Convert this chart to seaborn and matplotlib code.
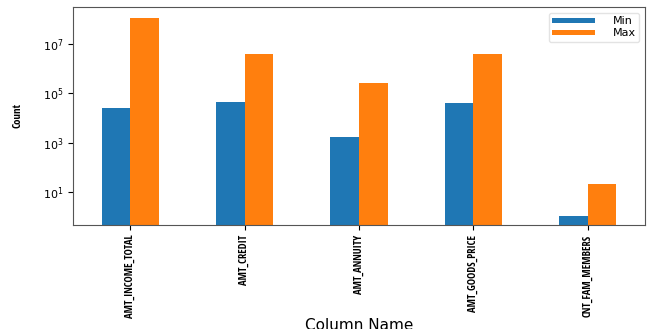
import matplotlib
matplotlib.use("Agg")
import matplotlib.pyplot as plt
from matplotlib import font_manager
import seaborn as sns
import pandas as pd

columns = ["AMT_INCOME_TOTAL", "AMT_CREDIT", "AMT_ANNUITY", "AMT_GOODS_PRICE", "CNT_FAM_MEMBERS"]
min_values = [25650.0, 45000.0, 1615.5, 40500.0, 1.0]
max_values = [117000000.0, 4050000.0, 258025.5, 4050000.0, 20.0]
stat_labels = ["Min", "Max"]

df = pd.DataFrame({
    "Column Name": columns * 2,
    "Count": min_values + max_values,
    "Stat": [stat_labels[0]] * len(columns) + [stat_labels[1]] * len(columns),
})

# pick a narrow face for the rotated labels if one is installed
names = {f.name for f in font_manager.fontManager.ttflist}
narrow = [n for n in ["Liberation Sans Narrow", "DejaVu Sans Condensed", "Open Sans Condensed",
                      "Roboto Condensed"] if n in names] + ["DejaVu Sans"]

fig = plt.figure(figsize=(6.51, 3.29), dpi=100)
ax = fig.add_axes([73 / 651, 1 - 225 / 329, 572 / 651, 218 / 329])

sns.barplot(data=df, x="Column Name", y="Count", hue="Stat",
            palette=["#1f77b4", "#ff7f0e"], saturation=1, width=0.5,
            log_scale=True, ax=ax, errorbar=None)

ax.set_yscale("log")
ax.set_ylim(0.45, 3.2e8)
ax.set_xlim(-0.5, 4.5)

ax.tick_params(axis="y", labelsize=8, length=3.5)
ax.tick_params(axis="x", length=3.5)
ax.yaxis.set_minor_locator(matplotlib.ticker.NullLocator())
ax.set_yticks([10, 1e3, 1e5, 1e7])

ax.set_xticks(range(len(columns)))
ax.set_xticklabels(columns, rotation=90, fontsize=7.7, family=narrow,
                   fontstretch="condensed", fontweight="normal")

ax.set_ylabel("Count", fontsize=7.8, family=narrow, fontstretch="condensed",
              fontweight="normal", labelpad=14)
ax.set_xlabel("Column Name", fontsize=11)
ax.xaxis.set_label_coords(0.5, -0.425)

for s in ax.spines.values():
    s.set_color("#555555")

leg = ax.legend(loc="upper right", fontsize=8, handlelength=3.8,
                labelspacing=0.15, borderpad=0.35, handleheight=0.35,
                handletextpad=1.6, borderaxespad=0.5, frameon=True)
leg.get_frame().set_edgecolor("#dddddd")

fig.savefig("out.png", dpi=100)
